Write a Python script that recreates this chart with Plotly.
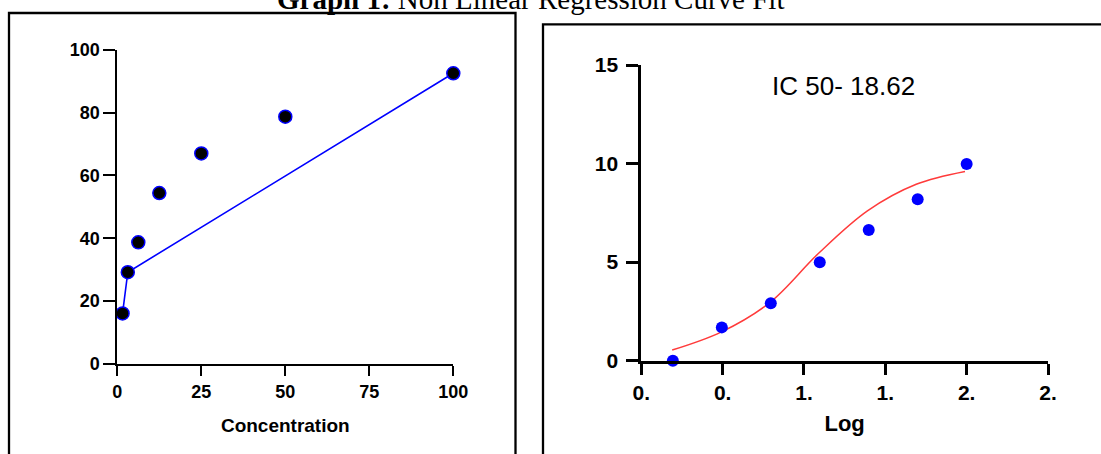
import plotly.graph_objects as go

# ---- data ----
concentration = [1.5625, 3.125, 6.25, 12.5, 25, 50, 100]
inhibition = [16.1, 29.2, 38.7, 54.4, 67.0, 78.7, 92.5]
line_idx = [0, 1, 6]  # points joined by the blue line

log_conc = [0.194, 0.495, 0.796, 1.097, 1.398, 1.699, 2.0]
response = [0.0, 1.69, 2.91, 4.99, 6.63, 8.19, 9.98]

fit_x = [0.19, 0.49, 0.79, 1.09, 1.39, 1.69, 1.99]
fit_y = [0.54, 1.45, 2.95, 5.45, 7.6, 8.95, 9.6]

left_xticks = [0, 25, 50, 75, 100]
left_yticks = [0, 20, 40, 60, 80, 100]
right_xticks = [0, 0.5, 1.0, 1.5, 2.0, 2.5]
right_xticktext = ["0.", "0.", "1.", "1.", "2.", "2."]
right_yticks = [0, 5, 10, 15]

W, H = 1101, 454
def px(x):
    return x / W
def py(y):
    return 1 - y / H

fig = go.Figure()

fig.add_trace(go.Scatter(
    x=[concentration[i] for i in line_idx], y=[inhibition[i] for i in line_idx],
    mode="lines", line=dict(color="#0000ff", width=1.6),
    xaxis="x", yaxis="y", cliponaxis=False, showlegend=False))
fig.add_trace(go.Scatter(
    x=concentration, y=inhibition, mode="markers",
    marker=dict(color="black", size=13, line=dict(color="#0000ff", width=1.5)),
    xaxis="x", yaxis="y", cliponaxis=False, showlegend=False))

fig.add_trace(go.Scatter(
    x=fit_x, y=fit_y, mode="lines", line=dict(color="#ff3b3b", width=1.5, shape="spline", smoothing=1.0),
    xaxis="x2", yaxis="y2", cliponaxis=False, showlegend=False))
fig.add_trace(go.Scatter(
    x=log_conc, y=response, mode="markers",
    marker=dict(color="#0000ff", size=12, line=dict(width=0)),
    xaxis="x2", yaxis="y2", cliponaxis=False, showlegend=False))

tickfont_l = dict(family="Liberation Sans, Arial", size=18, color="black", weight="bold")
tickfont_r = dict(family="Liberation Sans, Arial", size=21, color="black", weight="bold")

common = dict(showgrid=False, zeroline=False, showline=True, linecolor="black",
              ticks="outside", tickcolor="black", automargin=False)

fig.update_layout(
    template="none",
    width=W, height=H, margin=dict(l=0, r=0, t=0, b=0, pad=0),
    paper_bgcolor="white", plot_bgcolor="white", showlegend=False,
    xaxis=dict(domain=[px(117.3), px(453.3)], range=[0, 100], tickvals=left_xticks,
               linewidth=2, tickwidth=2, ticklen=10, tickfont=tickfont_l, anchor="y",
               title=dict(text="<b>Concentration</b>", font=dict(family="Liberation Sans, Arial", size=19, color="black"), standoff=18),
               **common),
    yaxis=dict(domain=[py(364), py(49.7)], range=[0, 100], tickvals=left_yticks,
               linewidth=2, tickwidth=2, ticklen=12, tickfont=tickfont_l, anchor="x",
               **common),
    xaxis2=dict(domain=[px(641.3), px(1048)], range=[0, 2.5], tickvals=right_xticks,
                ticktext=right_xticktext, linewidth=3, tickwidth=3, ticklen=11,
                tickfont=tickfont_r, anchor="y2",
                title=dict(text="<b>Log</b>", font=dict(family="Liberation Sans, Arial", size=22, color="black"), standoff=13),
                **common),
    yaxis2=dict(domain=[py(360.7), py(65)], range=[0, 15], tickvals=right_yticks,
                linewidth=3, tickwidth=3, ticklen=12, tickfont=tickfont_r, anchor="x2",
                ticklabelstandoff=4,
                **common),
)

# panel borders
fig.add_shape(type="rect", xref="paper", yref="paper",
              x0=px(9), x1=px(515.5), y0=py(470), y1=py(13),
              line=dict(color="black", width=2.3), fillcolor="rgba(0,0,0,0)")
fig.add_shape(type="rect", xref="paper", yref="paper",
              x0=px(543), x1=px(1115), y0=py(470), y1=py(24.3),
              line=dict(color="black", width=2.3), fillcolor="rgba(0,0,0,0)")

fig.add_annotation(xref="paper", yref="paper", x=px(843), y=py(86),
                   text="IC 50- 18.62", showarrow=False, xanchor="center", yanchor="middle",
                   font=dict(family="Liberation Sans, Arial", size=26, color="black"))

fig.add_annotation(xref="paper", yref="paper", x=px(530), y=py(16),
                   text="<b>Graph 1:</b> Non Linear Regression Curve Fit", showarrow=False,
                   xanchor="center", yanchor="bottom", borderpad=0,
                   font=dict(family="Liberation Serif, Times New Roman", size=29, color="black"))

fig.write_html("out.html", config={"displayModeBar": False},
               post_script="document.body.style.margin='0px';")
